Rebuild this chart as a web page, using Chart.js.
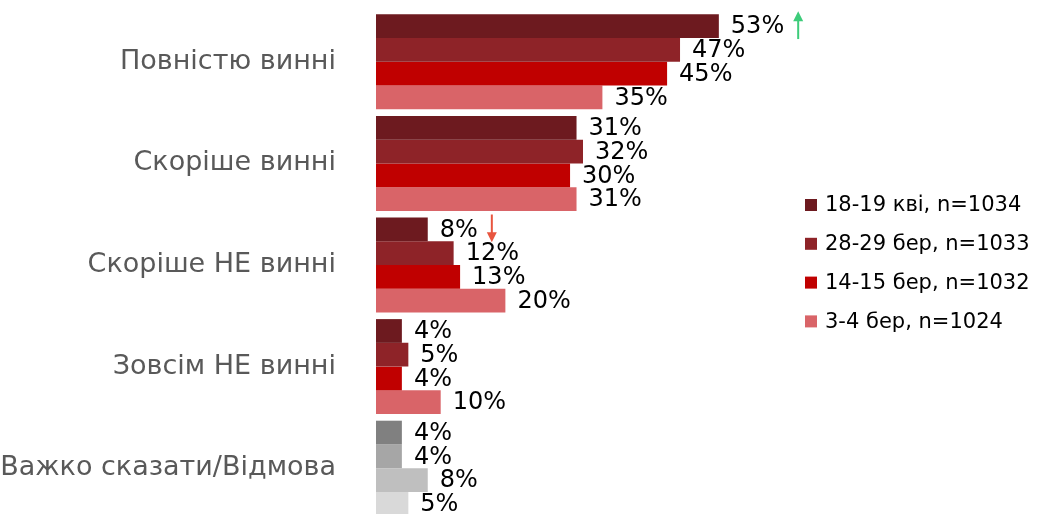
<!DOCTYPE html>
<html>
<head>
<meta charset="utf-8">
<script src="https://cdn.jsdelivr.net/npm/chart.js@4"></script>
<style>
  html, body { margin: 0; padding: 0; background: #fff; overflow: hidden; }
  #wrap { width: 1040px; height: 522px; position: relative; }
</style>
</head>
<body>
<div id="wrap"><canvas id="chart"></canvas></div>
<script>
// categories and series
const categories = ['Повністю винні', 'Скоріше винні', 'Скоріше НЕ винні', 'Зовсім НЕ винні', 'Важко сказати/Відмова'];
const seriesNames = ['18-19 кві, n=1034', '28-29 бер, n=1033', '14-15 бер, n=1032', '3-4 бер, n=1024'];
const apr18 = [53, 31, 8, 4, 4];
const mar28 = [47, 32, 12, 5, 4];
const mar14 = [45, 30, 13, 4, 8];
const mar03 = [35, 31, 20, 10, 5];

const seriesColors = ['#6d1a1f', '#8e2328', '#c00000', '#d96468'];
const greyColors = ['#808080', '#a6a6a6', '#bfbfbf', '#d9d9d9'];

// change arrows: [dataset index, category index, direction]
const arrows = [[0, 0, 'up'], [0, 2, 'down']];

Chart.defaults.font.family = "'DejaVu Sans', Verdana, sans-serif";

function colorsFor(i) {
  // last category ("hard to say") is drawn in greys
  return categories.map((c, k) => k === categories.length - 1 ? greyColors[i] : seriesColors[i]);
}

const allSeries = [apr18, mar28, mar14, mar03];

// value labels + arrows
const labelPlugin = {
  id: 'valueLabels',
  afterDatasetsDraw(chart) {
    const ctx = chart.ctx;
    ctx.save();
    ctx.font = '24px "DejaVu Sans"';
    ctx.fillStyle = '#000';
    ctx.textAlign = 'left';
    ctx.textBaseline = 'middle';
    chart.data.datasets.forEach((ds, i) => {
      chart.getDatasetMeta(i).data.forEach((bar, k) => {
        ctx.fillText(ds.data[k] + '%', bar.x + 12, bar.y + 1);
      });
    });

    arrows.forEach(([i, k, dir]) => {
      const bar = chart.getDatasetMeta(i).data[k];
      const txt = chart.data.datasets[i].data[k] + '%';
      const x = bar.x + 12 + ctx.measureText(txt).width + 14;
      const top = bar.y - bar.height / 2 - 3;
      const bottom = bar.y + bar.height / 2 + 1;
      const col = dir === 'up' ? '#3dcc7a' : '#e8553f';
      ctx.strokeStyle = col;
      ctx.fillStyle = col;
      ctx.lineWidth = 2;
      ctx.beginPath();
      if (dir === 'up') {
        ctx.moveTo(x, bottom); ctx.lineTo(x, top + 8);
        ctx.stroke();
        ctx.beginPath();
        ctx.moveTo(x, top); ctx.lineTo(x - 5, top + 10); ctx.lineTo(x + 5, top + 10);
      } else {
        ctx.moveTo(x, top); ctx.lineTo(x, bottom - 8);
        ctx.stroke();
        ctx.beginPath();
        ctx.moveTo(x, bottom); ctx.lineTo(x - 5, bottom - 10); ctx.lineTo(x + 5, bottom - 10);
      }
      ctx.closePath();
      ctx.fill();
    });
    ctx.restore();
  }
};

// legend at the right
const legendPlugin = {
  id: 'sideLegend',
  afterDraw(chart) {
    const ctx = chart.ctx;
    ctx.save();
    ctx.font = '21px "DejaVu Sans"';
    ctx.textBaseline = 'middle';
    ctx.textAlign = 'left';
    seriesNames.forEach((name, i) => {
      const y = 205 + i * 38.8;
      ctx.fillStyle = seriesColors[i];
      ctx.fillRect(805, y - 6, 12, 12);
      ctx.fillStyle = '#000';
      ctx.fillText(name, 825, y + 1);
    });
    ctx.restore();
  }
};

new Chart(document.getElementById('chart'), {
  type: 'bar',
  data: {
    labels: categories,
    datasets: allSeries.map((vals, i) => ({
      label: seriesNames[i],
      data: vals,
      backgroundColor: colorsFor(i),
      borderWidth: 0,
      barPercentage: 1.0,
      categoryPercentage: 0.935
    }))
  },
  options: {
    indexAxis: 'y',
    responsive: true,
    maintainAspectRatio: false,
    animation: false,
    layout: { padding: { left: 0, right: 250, top: 11, bottom: 3 } },
    plugins: {
      legend: { display: false },
      tooltip: { enabled: false }
    },
    scales: {
      x: {
        display: false,
        min: 0,
        max: 64
      },
      y: {
        grid: { display: false, drawTicks: false },
        border: { display: false },
        ticks: {
          color: '#595959',
          padding: 40,
          font: { size: 27 }
        },
        afterFit(scale) {
          scale.width = 376;
          scale.paddingTop = 0;
          scale.paddingBottom = 0;
        }
      }
    }
  },
  plugins: [labelPlugin, legendPlugin]
});
</script>
</body>
</html>
